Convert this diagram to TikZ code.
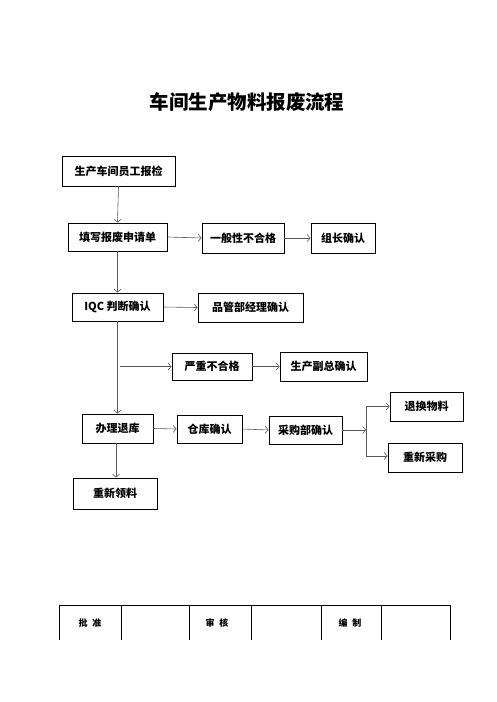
\documentclass[tikz,border=0pt]{standalone}
\usepackage{fontspec}
\setmainfont{Noto Sans CJK SC}
\usetikzlibrary{arrows.meta,calc}
\tikzset{
  box/.style={draw=black,line width=0.9pt,inner sep=0pt,font=\bfseries\fontsize{11}{13}\selectfont},
  conn/.style={draw=black!65,line width=0.6pt,-{Straight Barb[length=3pt,width=7pt]}},
  plain/.style={draw=black!65,line width=0.6pt},
  tab/.style={draw=black,line width=0.9pt},
  tabtxt/.style={font=\bfseries\fontsize{9}{10}\selectfont},
}
\begin{document}
\begin{tikzpicture}[x=1pt,y=-1pt]
\useasboundingbox (0,0) rectangle (496,702);
\node[font=\bfseries\fontsize{19.5}{22}\selectfont] (title) at (247,102) {车间生产物料报废流程};

\node[box,minimum width=113pt,minimum height=30pt] (b1) at (118.5,171) {生产车间员工报检};
\node[box,minimum width=99pt,minimum height=28pt] (b2) at (117.5,237) {填写报废申请单};
\node[box,minimum width=82pt,minimum height=30pt] (b3) at (243,238) {一般性不合格};
\node[box,minimum width=64pt,minimum height=30pt] (b4) at (343,238) {组长确认};
\node[box,minimum width=91pt,minimum height=28pt] (b5) at (117.5,307) {IQC 判断确认};
\node[box,minimum width=105pt,minimum height=29pt] (b6) at (250.5,307.5) {品管部经理确认};
\node[box,minimum width=80pt,minimum height=27pt] (b7) at (212,366.5) {严重不合格};
\node[box,minimum width=87pt,minimum height=29pt] (b8) at (323.5,366.5) {生产副总确认};
\node[box,minimum width=71pt,minimum height=29pt] (b9) at (117.5,428.5) {办理退库};
\node[box,minimum width=65pt,minimum height=28pt] (b10) at (209.5,429) {仓库确认};
\node[box,minimum width=73pt,minimum height=28pt] (b11) at (305.5,430) {采购部确认};
\node[box,minimum width=73pt,minimum height=29pt] (b12) at (426.5,406.5) {退换物料};
\node[box,minimum width=74pt,minimum height=29pt] (b13) at (425,457.5) {重新采购};
\node[box,minimum width=84pt,minimum height=31pt] (b14) at (115,493.5) {重新领料};

\coordinate (br) at (120,366.5);
\coordinate (bm) at (366,430);
\coordinate (bt) at (366,406.5);
\coordinate (bb) at (366,456);

\draw[conn] (b1.south) -- (b2.north);
\draw[conn] (b2.south) -- (b5.north);
\draw[conn] (b5.south) -- (b9.north);
\draw[conn] (b2.east) -- (b3.west);
\draw[conn] (b3.east) -- (b4.west);
\draw[conn] (b5.east) -- (b6.west);
\draw[conn] (br) -- (b7.west);
\draw[conn] (b7.east) -- (b8.west);
\draw[conn] (b9.east) -- (b10.west);
\draw[conn] (b10.east) -- (b11.west);
\draw[conn] (b11.east) -- (bm);
\draw[plain] (bt) -- (bb);
\draw[conn] (bt) -- (bt -| b12.west);
\draw[conn] (bb) -- (bb -| b13.west);
\draw[conn] ($(b9.south)+(-1.5,0)$) -- ($(b14.north)+(1,0)$);

% sign-off table
\coordinate (t0) at (59,605);
\coordinate (t6) at (450,605);
\draw[tab] (t0) -- (t6);
\foreach \x in {59,121,189,251,321,381,450} {
  \draw[tab] (\x,605) -- (\x,640);
}
\node[tabtxt] (s1) at (90,623) {批\hspace{5pt}准};
\node[tabtxt] (s2) at (217,623) {审\hspace{5pt}核};
\node[tabtxt] (s3) at (350,623) {编\hspace{5pt}制};
\end{tikzpicture}
\end{document}
